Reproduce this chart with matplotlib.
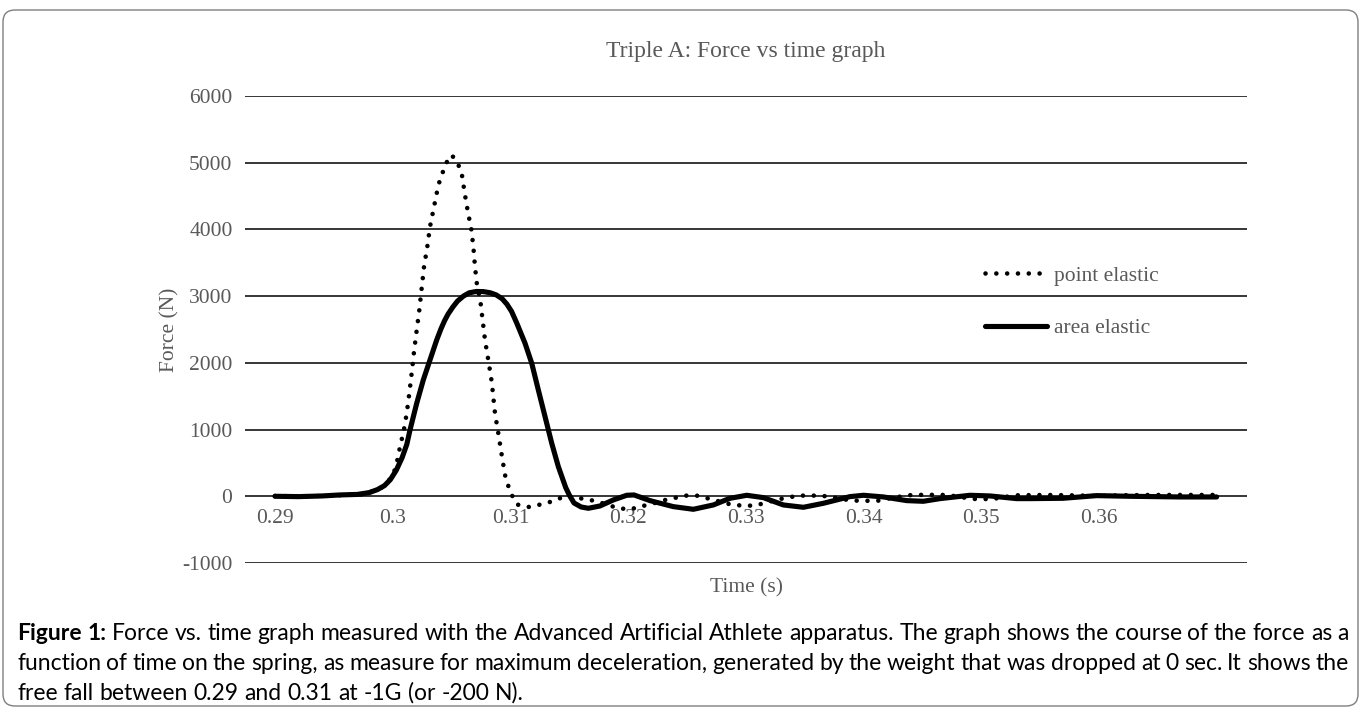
import matplotlib
matplotlib.use("Agg")
import matplotlib.pyplot as plt
from matplotlib.patches import FancyBboxPatch
from matplotlib.transforms import IdentityTransform

# Data
point_t = [0.2900, 0.2920, 0.2940, 0.2960, 0.2975, 0.2990, 0.3000, 0.30034,
           0.30068, 0.30090, 0.30119, 0.30141, 0.30161, 0.30181, 0.30204,
           0.30226, 0.30246, 0.30266, 0.30294, 0.30317, 0.30354, 0.30388,
           0.30422, 0.30453, 0.30501, 0.30552, 0.30586, 0.30614, 0.30643,
           0.30665, 0.30685, 0.30699, 0.30719, 0.30742, 0.30762, 0.30784,
           0.30812, 0.30841, 0.30869, 0.30897, 0.30926, 0.30954, 0.30982,
           0.31011, 0.31060, 0.31155, 0.31251, 0.31348, 0.31442, 0.31530,
           0.31625, 0.31719, 0.31804, 0.31917, 0.32020, 0.32101, 0.32200,
           0.32290, 0.32384, 0.32483, 0.32583, 0.32673, 0.32866, 0.32965,
           0.33064, 0.33157, 0.33250, 0.33446, 0.33545, 0.33639, 0.33720,
           0.33850, 0.33930, 0.34030, 0.34130, 0.34250, 0.34410, 0.34550,
           0.34710, 0.34820, 0.34930, 0.35020, 0.35100, 0.35200, 0.35300,
           0.35550, 0.35750, 0.36000, 0.36200, 0.36450, 0.36700, 0.37000]
point_f = [5, 0, 5, 20, 30, 120, 300, 495,
           795, 945, 1244, 1544, 1844, 2168, 2493,
           2793, 3118, 3442, 3742, 4042, 4367, 4667,
           4842, 4992, 5117, 4992, 4842, 4517, 4217,
           4042, 3742, 3442, 3118, 2968, 2668, 2343,
           2043, 1718, 1244, 945, 620, 320, 155,
           20, -125, -160, -125, -80, -15, -10,
           -40, -70, -115, -180, -195, -155, -115,
           -65, -30, 10, 10, -30, -120, -140,
           -140, -105, -55, 10, 10, 10, -10,
           -50, -65, -68, -65, -20, 20, 22,
           20, -10, -40, -42, -40, -10, 15,
           20, 15, 5, 15, 20, 20, 20]

area_t = [0.2900, 0.2920, 0.2940, 0.2955, 0.2970, 0.2980, 0.2987, 0.2993,
          0.2998, 0.3003, 0.3008, 0.3012, 0.30147, 0.30204, 0.30260, 0.30317,
          0.30374, 0.3041, 0.3044, 0.3047, 0.3051, 0.3055, 0.3060, 0.3065,
          0.3071, 0.3077, 0.3083, 0.3088, 0.3093, 0.3097, 0.3101, 0.31053,
          0.31124, 0.31181, 0.31237, 0.31294, 0.31351, 0.31407, 0.31440,
          0.31470, 0.31500, 0.31540, 0.31600, 0.31662, 0.31761, 0.31874,
          0.31988, 0.32050, 0.32186, 0.32384, 0.32554, 0.32724, 0.32866,
          0.33008, 0.33149, 0.33319, 0.33489, 0.33659, 0.33885, 0.34000,
          0.34170, 0.34367, 0.34508, 0.34650, 0.34905, 0.35075, 0.35300,
          0.35415, 0.35695, 0.35981, 0.36264, 0.36689, 0.37000]
area_f = [0, -5, 5, 20, 28, 55, 100, 160,
          250, 390, 580, 780, 995, 1395, 1745, 2045,
          2345, 2510, 2630, 2730, 2835, 2925, 3000, 3050,
          3070, 3068, 3050, 3018, 2960, 2880, 2770, 2600,
          2295, 1995, 1595, 1195, 795, 445, 280,
          130, 20, -100, -160, -180, -145, -55,
          15, 20, -65, -155, -195, -130, -30,
          15, -20, -130, -165, -105, -5, 15,
          -10, -65, -75, -35, 15, 5, -35,
          -35, -30, 10, 0, -10, -10]

x_ticks = [0.29, 0.30, 0.31, 0.32, 0.33, 0.34, 0.35, 0.36]
x_labels = ["0.29", "0.3", "0.31", "0.32", "0.33", "0.34", "0.35", "0.36"]
y_ticks = [-1000, 0, 1000, 2000, 3000, 4000, 5000, 6000]
y_labels = ["-1000", "0", "1000", "2000", "3000", "4000", "5000", "6000"]

caption_lines = [
    "Figure 1: Force vs. time graph measured with the Advanced Artificial Athlete apparatus. The graph shows the course of the force as a",
    "function of time on the spring, as measure for maximum deceleration, generated by the weight that was dropped at 0 sec. It shows the",
    "free fall between 0.29 and 0.31 at -1G (or -200 N).",
]

W, H = 1362, 713
grey = "#595959"
serif = "Liberation Serif"

fig = plt.figure(figsize=(W / 100, H / 100), dpi=100)
fig.patch.set_facecolor("white")

# plot area in pixels: left 245, right 1247, top 96 (6000), bottom 563 (-1000)
ax = fig.add_axes([245 / W, 1 - 563 / H, (1247 - 245) / W, (563 - 96) / H])
ax.set_xlim(0.28745, 0.37258)
ax.set_ylim(-1000, 6000)

ax.plot(point_t, point_f, color="black", lw=3.3, linestyle=(0, (0.01, 2.35)),
        dash_capstyle="round", solid_capstyle="round", label="point elastic")
ax.plot(area_t, area_f, color="black", lw=3.7, solid_capstyle="round",
        solid_joinstyle="round", label="area elastic")

for s in ax.spines.values():
    s.set_visible(False)
ax.spines["bottom"].set_position(("data", 0))
ax.set_yticks(y_ticks)
ax.set_yticklabels(y_labels)
ax.set_xticks(x_ticks)
ax.set_xticklabels(x_labels)
ax.tick_params(axis="both", length=0, labelcolor=grey, labelsize=15.5)
ax.tick_params(axis="x", pad=9)
ax.tick_params(axis="y", pad=9)
for lab in ax.get_xticklabels() + ax.get_yticklabels():
    lab.set_fontfamily(serif)
ax.yaxis.grid(True, color="black", lw=1.1)
ax.set_axisbelow(True)

leg = ax.legend(loc="center left", bbox_to_anchor=((985 - 245) / 1002, (563 - 302) / 467),
                frameon=False, borderpad=0, borderaxespad=0, handlelength=2.9,
                handletextpad=0.3, labelspacing=1.5,
                prop={"family": serif, "size": 15.5})
for t in leg.get_texts():
    t.set_color(grey)

fig.text(746 / W, 1 - 52 / H, "Triple A: Force vs time graph", ha="center", va="center",
         family=serif, size=17, color=grey)
fig.text(746 / W, 1 - 588 / H, "Time (s)", ha="center", va="center",
         family=serif, size=15.5, color=grey)
fig.text(170 / W, 1 - 330 / H, "Force (N)", ha="center", va="center", rotation=90,
         family=serif, size=15.5, color=grey)

# rounded frame around everything
frame = FancyBboxPatch((3, 7), W - 7, H - 17, boxstyle="round,pad=0,rounding_size=12",
                       transform=IdentityTransform(), fc="none", ec="#7f7f7f", lw=1.0)
fig.patches.append(frame)

# justified caption, size fitted so the first line fills the width
fig.canvas.draw()
rend = fig.canvas.get_renderer()
cap_font = "Lato"
left_px, right_px = 17, 1349


def text_width(s, weight, size):
    t = fig.text(0, 0, s, family=cap_font, size=size, weight=weight)
    w = t.get_window_extent(rend).width
    t.remove()
    return w


first_words = caption_lines[0].split(" ")
natural = (text_width(" ".join(first_words[:2]) + " ", "bold", 12)
           + text_width(" ".join(first_words[2:]), "normal", 12))
cap_size = 12 * (right_px - left_px) / natural

space_w = text_width("a b", "normal", cap_size) - text_width("ab", "normal", cap_size)
line_y = [633, 663, 693]
for i, line in enumerate(caption_lines):
    words = line.split(" ")
    weights = ["normal"] * len(words)
    if i == 0:
        weights[0] = "bold"
        weights[1] = "bold"
    widths = [text_width(w, wt, cap_size) for w, wt in zip(words, weights)]
    if i < len(caption_lines) - 1:
        gap = (right_px - left_px - sum(widths)) / (len(words) - 1)
    else:
        gap = space_w
    x = left_px
    for w, wt, wd in zip(words, weights, widths):
        fig.text(x / W, 1 - line_y[i] / H, w, family=cap_font, size=cap_size,
                 weight=wt, va="center", ha="left", color="black")
        x += wd + gap

fig.savefig("out.png", dpi=100, facecolor="white")
